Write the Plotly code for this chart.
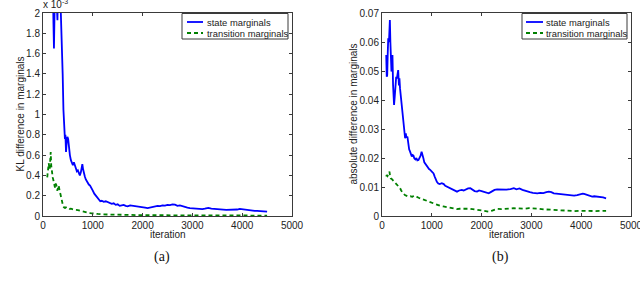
import plotly.graph_objects as go

# ---------------- data ----------------
# (a) KL difference in marginals, values in units of 1e-3
kl_state_iter = [100, 120, 140, 160, 180, 200, 210, 220, 230, 245, 260, 275, 290, 300, 320, 340, 355, 370, 380, 395,
                 410, 425, 440, 450, 462, 475, 490, 505, 520, 540, 560, 580, 600, 620, 640, 660, 680, 700, 720, 740,
                 760, 780, 790, 805, 820, 840, 860, 880, 900, 920, 945, 970, 1000, 1030, 1060, 1090, 1120, 1150, 1180, 1220,
                 1260, 1300, 1340, 1380, 1420, 1460, 1500, 1540, 1580, 1620, 1660, 1700, 1750, 1800, 1850, 1900, 1950, 2000, 2050, 2100,
                 2150, 2200, 2250, 2300, 2350, 2400, 2450, 2500, 2550, 2600, 2650, 2700, 2750, 2800, 2850, 2900, 2950, 3000, 3050, 3100,
                 3150, 3200, 3250, 3320, 3380, 3440, 3500, 3560, 3620, 3680, 3750, 3800, 3850, 3900, 3950, 4000, 4050, 4100, 4150, 4200,
                 4250, 4300, 4350, 4400, 4450, 4500]
kl_state_val = [2.8, 2.5, 2.9, 2.6, 2.4, 2.2, 1.9, 1.65, 1.95, 2.5, 2.3, 2.1, 1.93, 2.2, 2.6, 2.3, 2.05, 1.85, 1.75, 1.4,
                1.05, 0.87, 0.76, 0.8, 0.63, 0.72, 0.78, 0.76, 0.66, 0.6, 0.55, 0.52, 0.5, 0.53, 0.49, 0.47, 0.44, 0.45, 0.41, 0.40,
                0.43, 0.49, 0.51, 0.46, 0.42, 0.39, 0.36, 0.34, 0.33, 0.31, 0.30, 0.27, 0.25, 0.22, 0.20, 0.18, 0.16, 0.145, 0.15, 0.14,
                0.145, 0.135, 0.13, 0.12, 0.125, 0.11, 0.115, 0.10, 0.105, 0.11, 0.10, 0.095, 0.105, 0.10, 0.098, 0.092, 0.09, 0.085, 0.082, 0.078,
                0.085, 0.09, 0.095, 0.1, 0.098, 0.105, 0.102, 0.11, 0.108, 0.115, 0.112, 0.10, 0.105, 0.095, 0.088, 0.082, 0.078, 0.075, 0.072, 0.068,
                0.066, 0.068, 0.072, 0.08, 0.072, 0.068, 0.066, 0.063, 0.062, 0.06, 0.06, 0.058, 0.06, 0.064, 0.07, 0.066, 0.062, 0.058, 0.055, 0.052,
                0.05, 0.05, 0.048, 0.047, 0.045, 0.043]

kl_trans_iter = [85, 95, 105, 115, 125, 135, 145, 155, 165, 180, 195, 210, 225, 240, 255, 270, 285, 300, 315, 330,
                 345, 360, 375, 390, 405, 420, 440, 460, 480, 500, 530, 560, 600, 650, 700, 750, 800, 850, 900, 950,
                 1000, 1100, 1200, 1300, 1400, 1500, 1700, 1900, 2100, 2300, 2500, 2700, 2900, 3100, 3300, 3600, 3900, 4200, 4500]
kl_trans_val = [0.38, 0.45, 0.50, 0.52, 0.48, 0.46, 0.55, 0.63, 0.50, 0.42, 0.38, 0.35, 0.32, 0.28, 0.32, 0.30, 0.25, 0.27, 0.30, 0.26,
                0.22, 0.19, 0.16, 0.12, 0.095, 0.085, 0.08, 0.085, 0.075, 0.078, 0.07, 0.072, 0.065, 0.06, 0.058, 0.05, 0.045, 0.04, 0.033, 0.028,
                0.024, 0.02, 0.016, 0.014, 0.012, 0.011, 0.01, 0.009, 0.008, 0.009, 0.008, 0.007, 0.007, 0.006, 0.006, 0.005, 0.005, 0.005, 0.004]

# (b) absolute difference in marginals
abs_state_iter = [85, 95, 105, 115, 125, 140, 150, 158, 168, 180, 190, 200, 210, 222, 232, 242, 255, 270, 285, 300,
                  312, 325, 340, 350, 362, 376, 390, 403, 415, 428, 445, 464, 478, 490, 510, 525, 545, 564, 580, 598,
                  615, 632, 650, 670, 690, 710, 732, 755, 775, 795, 810, 830, 850, 870, 895, 920, 945, 968, 990, 1010,
                  1035, 1060, 1080, 1102, 1130, 1160, 1200, 1240, 1270, 1304, 1340, 1380, 1420, 1460, 1506, 1550, 1600, 1640, 1680, 1730,
                  1774, 1820, 1860, 1909, 1950, 2000, 2050, 2100, 2143, 2200, 2260, 2312, 2370, 2430, 2500, 2580, 2647, 2700, 2760, 2820,
                  2870, 2917, 2970, 3030, 3080, 3118, 3180, 3240, 3300, 3350, 3400, 3450, 3500, 3588, 3650, 3720, 3800, 3857, 3920, 3980,
                  4030, 4058, 4120, 4180, 4220, 4260, 4320, 4380, 4440, 4500]
abs_state_val = [0.0555, 0.048, 0.0486, 0.056, 0.0613, 0.060, 0.066, 0.0676, 0.060, 0.054, 0.0498, 0.052, 0.0555, 0.0452, 0.042, 0.0383, 0.041, 0.044, 0.048, 0.0475,
                 0.0485, 0.0503, 0.045, 0.0475, 0.044, 0.0417, 0.040, 0.0383, 0.035, 0.032, 0.030, 0.0268, 0.0285, 0.027, 0.0274, 0.025, 0.023, 0.0222, 0.0212, 0.0205,
                 0.021, 0.0208, 0.0198, 0.0195, 0.0200, 0.0192, 0.0193, 0.0200, 0.0208, 0.0222, 0.0215, 0.020, 0.0185, 0.018, 0.0172, 0.0165, 0.0162, 0.0159, 0.0155, 0.0150,
                 0.0147, 0.0135, 0.0125, 0.0118, 0.0112, 0.0110, 0.0113, 0.0110, 0.0104, 0.0101, 0.0098, 0.0095, 0.0090, 0.0088, 0.0084, 0.0088, 0.0090, 0.0088, 0.0092, 0.0095,
                 0.0096, 0.0090, 0.0086, 0.0084, 0.0088, 0.0086, 0.0083, 0.0080, 0.0078, 0.0084, 0.0090, 0.0092, 0.0091, 0.0092, 0.0091, 0.0093, 0.0096, 0.0092, 0.0095, 0.0090,
                 0.0087, 0.0084, 0.0082, 0.0080, 0.0078, 0.0078, 0.0080, 0.0079, 0.0082, 0.0084, 0.0082, 0.0078, 0.0077, 0.0075, 0.0074, 0.0072, 0.0071, 0.0070, 0.0072, 0.0075,
                 0.0077, 0.0076, 0.0073, 0.0070, 0.0067, 0.0068, 0.0067, 0.0066, 0.0064, 0.0061]

abs_trans_iter = [85, 95, 110, 125, 140, 150, 160, 175, 195, 215, 235, 262, 285, 305, 325, 345, 363, 385, 405, 430,
                  460, 490, 531, 570, 610, 640, 665, 700, 735, 766, 810, 860, 910, 968, 1020, 1080, 1120, 1169, 1230, 1300,
                  1370, 1438, 1500, 1560, 1640, 1700, 1774, 1850, 1950, 2050, 2143, 2200, 2260, 2312, 2400, 2500, 2580, 2647, 2750, 2850,
                  2950, 3050, 3150, 3250, 3350, 3454, 3550, 3650, 3750, 3857, 3950, 4050, 4150, 4250, 4350, 4500]
abs_trans_val = [0.0136, 0.0141, 0.0138, 0.0145, 0.0150, 0.0153, 0.0140, 0.0130, 0.0128, 0.0124, 0.0120, 0.0118, 0.0112, 0.0106, 0.0104, 0.0100, 0.0096, 0.0088, 0.0082, 0.0078,
                 0.0072, 0.0070, 0.0067, 0.0068, 0.0066, 0.0070, 0.0069, 0.0066, 0.0063, 0.0061, 0.0058, 0.0055, 0.0052, 0.0049, 0.0045, 0.0040, 0.0037, 0.0035, 0.0033, 0.0031,
                 0.0029, 0.0026, 0.0024, 0.0025, 0.0026, 0.0025, 0.0025, 0.0023, 0.0021, 0.0018, 0.0015, 0.0018, 0.0022, 0.0025, 0.0024, 0.0026, 0.0025, 0.0027, 0.0026, 0.0025,
                 0.0027, 0.0027, 0.0025, 0.0023, 0.0022, 0.0020, 0.0019, 0.0019, 0.0018, 0.0017, 0.0018, 0.0019, 0.0018, 0.0017, 0.0018, 0.0018]

x_ticks = [0, 1000, 2000, 3000, 4000, 5000]
kl_ticks = [0, 0.2, 0.4, 0.6, 0.8, 1, 1.2, 1.4, 1.6, 1.8, 2]
kl_tick_text = ["0", "0.2", "0.4", "0.6", "0.8", "1", "1.2", "1.4", "1.6", "1.8", "2"]
abs_ticks = [0, 0.01, 0.02, 0.03, 0.04, 0.05, 0.06, 0.07]
abs_tick_text = ["0", "0.01", "0.02", "0.03", "0.04", "0.05", "0.06", "0.07"]
series_names = ["state marginals", "transition marginals"]
x_title = "iteration"
y_titles = ["KL difference in marginals", "absolute difference in marginals"]
captions = ["(a)", "(b)"]

# ---------------- styling ----------------
W, H = 640, 285
BLUE = "#0000ff"
GREEN = "#008000"
AXC = "#3a3a3a"
FONT = "Liberation Sans, Arial, sans-serif"


def px(x):
    return x / W


def py(y):
    return 1 - y / H


fig = go.Figure()
fig.add_trace(go.Scatter(x=kl_state_iter, y=kl_state_val, mode="lines", name=series_names[0],
                         line=dict(color=BLUE, width=1.8), xaxis="x", yaxis="y", showlegend=False))
fig.add_trace(go.Scatter(x=kl_trans_iter, y=kl_trans_val, mode="lines", name=series_names[1],
                         line=dict(color=GREEN, width=1.8, dash="4px,3px"), xaxis="x", yaxis="y", showlegend=False))
fig.add_trace(go.Scatter(x=abs_state_iter, y=abs_state_val, mode="lines", name=series_names[0],
                         line=dict(color=BLUE, width=1.8), xaxis="x2", yaxis="y2", showlegend=False))
fig.add_trace(go.Scatter(x=abs_trans_iter, y=abs_trans_val, mode="lines", name=series_names[1],
                         line=dict(color=GREEN, width=1.8, dash="4px,3px"), xaxis="x2", yaxis="y2", showlegend=False))

ax_common = dict(showgrid=False, zeroline=False, showline=True, linecolor=AXC, linewidth=1,
                 mirror="ticks", ticks="inside", ticklen=3, tickcolor=AXC, tickwidth=1,
                 tickfont=dict(family=FONT, size=10, color="#222"), automargin=False,
                 ticklabeloverflow="allow")

AX1 = (43, 292)
AX2 = (382, 631)
TOP, BOT = 13, 216
y_dom = [py(BOT), py(TOP)]
fig.update_layout(
    width=W, height=H, margin=dict(l=0, r=0, t=0, b=0),
    paper_bgcolor="white", plot_bgcolor="white",
    font=dict(family=FONT, size=10, color="#222"),
    xaxis=dict(domain=[px(AX1[0]), px(AX1[1])], range=[0, 5000], tickvals=x_ticks, anchor="y", **ax_common),
    yaxis=dict(domain=y_dom, range=[0, 2], tickvals=kl_ticks, ticktext=kl_tick_text, anchor="x", **ax_common),
    xaxis2=dict(domain=[px(AX2[0]), px(AX2[1])], range=[0, 5000], tickvals=x_ticks, anchor="y2", **ax_common),
    yaxis2=dict(domain=y_dom, range=[0, 0.07], tickvals=abs_ticks, ticktext=abs_tick_text, anchor="x2", **ax_common),
)

shapes = []
annotations = []
LEG_FONT = dict(family=FONT, size=9.4, color="#222")
TXT_FONT = dict(family=FONT, size=10, color="#222")

# axis titles
for (ax0, ax1), ytx, ytx_x in zip([AX1, AX2], y_titles, [20, 353]):
    annotations.append(dict(text=x_title, xref="paper", yref="paper", x=px((ax0 + ax1) / 2), y=py(234.5),
                            xanchor="center", yanchor="middle", showarrow=False, font=TXT_FONT))
    annotations.append(dict(text=ytx, xref="paper", yref="paper", x=px(ytx_x), y=py((TOP + BOT) / 2),
                            xanchor="center", yanchor="middle", textangle=-90, showarrow=False, font=TXT_FONT))

# manual legends (MATLAB style)
for (bx0, bx1, lx0, lx1, tx) in [(182, 288, 187, 203, 206), (522, 627, 526, 543, 545)]:
    shapes.append(dict(type="rect", xref="paper", yref="paper", x0=px(bx0), x1=px(bx1), y0=py(39), y1=py(13.5),
                       line=dict(color=AXC, width=1), fillcolor="white", layer="above"))
    shapes.append(dict(type="line", xref="paper", yref="paper", x0=px(lx0), x1=px(lx1), y0=py(22), y1=py(22),
                       line=dict(color=BLUE, width=1.8), layer="above"))
    shapes.append(dict(type="line", xref="paper", yref="paper", x0=px(lx0), x1=px(lx1), y0=py(33), y1=py(33),
                       line=dict(color=GREEN, width=1.8, dash="4px,3px"), layer="above"))
    for name, yy in zip(series_names, [22, 33]):
        annotations.append(dict(text=name, xref="paper", yref="paper", x=px(tx - 1), y=py(yy), xanchor="left",
                                yanchor="middle", showarrow=False, font=LEG_FONT))

# exponent label
annotations.append(dict(text="x 10<sup>-3</sup>", xref="paper", yref="paper", x=px(41), y=py(12),
                        xanchor="left", yanchor="bottom", showarrow=False, font=TXT_FONT))

# captions
for cap, cx in zip(captions, [162, 500]):
    annotations.append(dict(text=cap, xref="paper", yref="paper", x=px(cx), y=py(257), xanchor="center",
                            yanchor="middle", showarrow=False,
                            font=dict(family="Liberation Serif, Times New Roman, serif", size=14, color="#111")))

fig.update_layout(shapes=shapes, annotations=annotations)
fig.write_html("out.html", config={"displayModeBar": False},
               post_script="document.body.style.margin='0';document.body.style.padding='0';")
